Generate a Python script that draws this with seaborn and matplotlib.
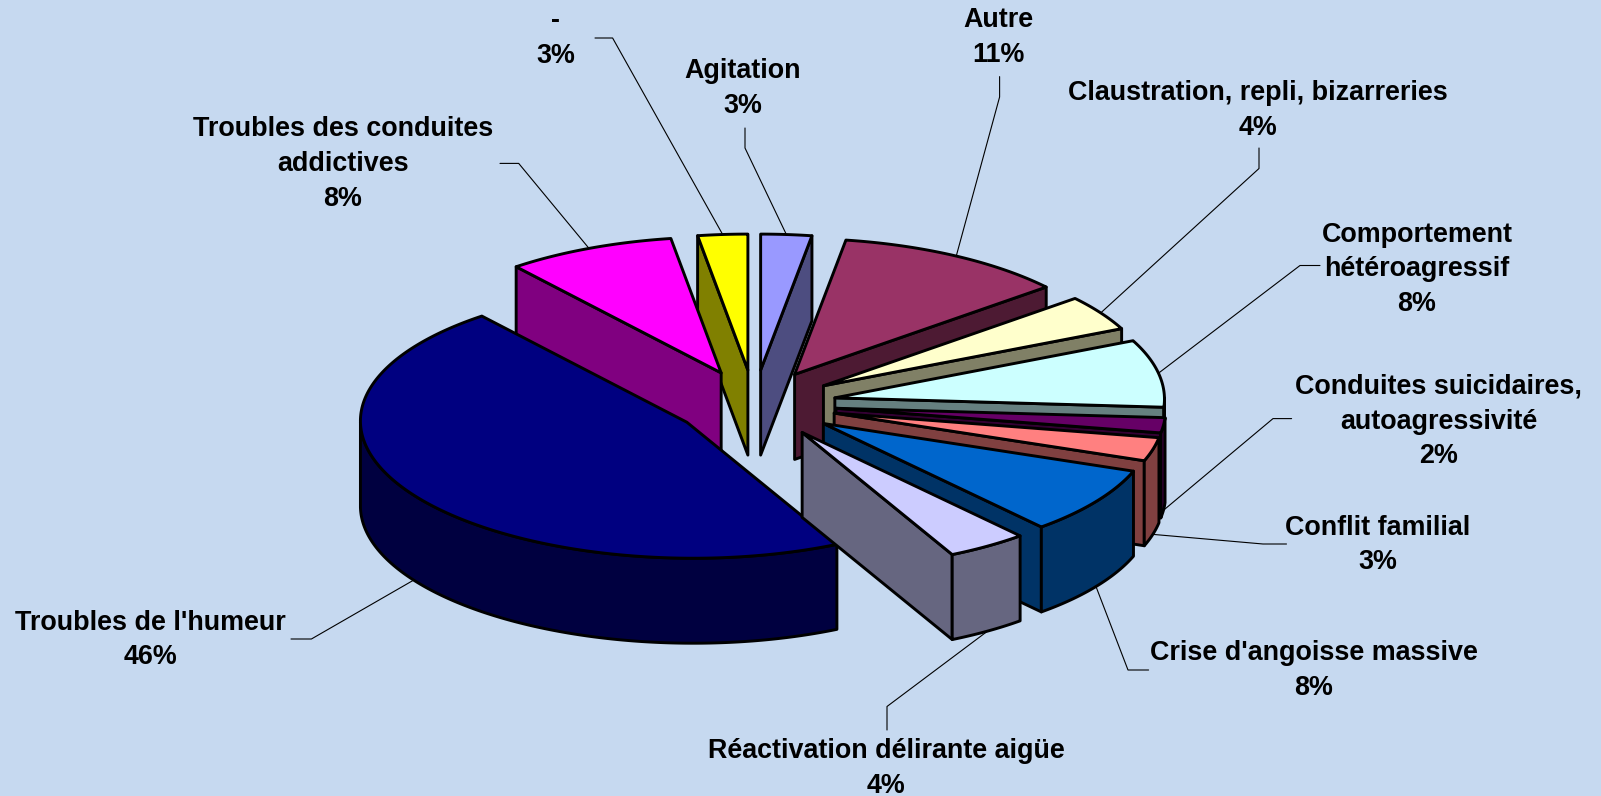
import numpy as np
import matplotlib
matplotlib.use("Agg")
import matplotlib.pyplot as plt
import seaborn as sns
from matplotlib.patches import Polygon

# ---- data ----
categories = ["Agitation", "Autre", "Claustration, repli, bizarreries",
              "Comportement\nhétéroagressif", "Conduites suicidaires,\nautoagressivité",
              "Conflit familial", "Crise d'angoisse massive",
              "Réactivation délirante aigüe", "Troubles de l'humeur",
              "Troubles des conduites\naddictives", "-"]
values = [2.5, 11.4, 4.2, 8.0, 1.8, 2.8, 8.05, 4.0, 46.5, 8.3, 2.45]
percent_labels = ["3%", "11%", "4%", "8%", "2%", "3%", "8%", "4%", "46%", "8%", "3%"]
top_colors = ["#9999FF", "#993366", "#FFFFCC", "#CCFFFF", "#660066", "#FF8080",
              "#0066CC", "#CCCCFF", "#000080", "#FF00FF", "#FFFF00"]

# ---- layout (pixels of the 1601x796 figure) ----
W, H = 1601, 796
BG = "#C6D9F0"
CX, CY = 754.2, 404.0
RX, RY = 328.0, 136.0
EXPLODE = 0.25
DEPTH = 85.0 / RY
TIP_SKEW = 3.5 / RX      # front slices sit a little further right in the reference
RIM_SKEW = 1.6 / RX
LABEL_DY = 3.0
label_xy = [(743, 85.8), (998.5, 34.7), (1257.8, 107.2), (1417, 266.5), (1438.6, 418.6),
            (1378, 542), (1314, 667.7), (886, 765.8), (150, 637), (343, 161.3), (555.4, 35.7)]
leader_xy = [[(745, 128), (745, 148)], [(999.6, 76.6), (999.6, 97)], [(1259, 148), (1259, 168.5)],
             [(1320, 265.5), (1300, 265.5)], [(1291.6, 418.6), (1273, 418.6)],
             [(1286.5, 544), (1263, 544)], [(1148.6, 670), (1128, 670)],
             [(887, 730), (887, 706.5)], [(291, 639), (311.4, 639)],
             [(500, 163.4), (518.7, 163.4)], [(595, 38), (612.6, 38)]]

sns.set_theme(style="white", rc={"figure.facecolor": BG, "axes.facecolor": BG})
plt.rcParams["font.family"] = ["Liberation Sans", "DejaVu Sans"]
palette = sns.color_palette(top_colors)

fig = plt.figure(figsize=(W / 100, H / 100), dpi=100)
ax = fig.add_axes([0, 0, 1, 1])
# pie plane units: radius 1 on both axes, squashed by the axis limits
ax.set_xlim(-CX / RX, (W - CX) / RX)
ax.set_ylim((CY - H) / RY, CY / RY)
ax.axis("off")


def from_px(p):
    return (p[0] - CX) / RX, (CY - p[1]) / RY


fractions = np.array(values) / np.sum(values)
edges = np.concatenate([[0], np.cumsum(fractions)]) * 2 * np.pi
LW = 2.1


def add_face(points, color, z):
    ax.add_patch(Polygon(points, closed=True, facecolor=color, edgecolor="black",
                         linewidth=LW, joinstyle="round", zorder=z))


mids = (edges[:-1] + edges[1:]) / 2
tip_u = EXPLODE * np.sin(mids) + TIP_SKEW * np.clip(-np.cos(mids), 0, None)
tip_v = EXPLODE * np.cos(mids)
draw_order = np.argsort(-tip_v)
down = np.array([0, -DEPTH])


def rim_points(i, angles):
    angles = np.atleast_1d(angles)
    return np.column_stack([tip_u[i] + np.sin(angles) + RIM_SKEW * (1 - np.cos(angles)) ** 2,
                            tip_v[i] + np.cos(angles)])


for rank, i in enumerate(draw_order):
    a0, a1 = edges[i], edges[i + 1]
    tip = np.array([tip_u[i], tip_v[i]])
    top = np.array(palette[i])
    wall = tuple(top * 0.5)
    z = 2 + rank
    arc = rim_points(i, np.linspace(a0, a1, 200))
    # radial walls facing the viewer
    for ang, visible in ((a0, np.sin(a0) < 0), (a1, np.sin(a1) > 0)):
        if visible:
            rim = rim_points(i, ang)[0]
            add_face([tip, rim, rim + down, tip + down], wall, z)
    # outer wall, front half only
    lo, hi = max(a0, np.pi / 2), min(a1, 3 * np.pi / 2)
    if hi > lo:
        r = rim_points(i, np.linspace(lo, hi, 200))
        add_face(np.vstack([r, (r + down)[::-1]]), wall, z)
    add_face(np.vstack([tip, arc]), palette[i], z)

# labels and leader lines
for i, (name, pct) in enumerate(zip(categories, percent_labels)):
    lx, ly = from_px((label_xy[i][0], label_xy[i][1] + LABEL_DY))
    ax.text(lx, ly, f"{name}\n{pct}", ha="center", va="center", fontsize=19.35,
            fontweight="bold", color="black", linespacing=1.44, zorder=50)
    rim = rim_points(i, mids[i])[0]
    if np.cos(mids[i]) < 0:
        rim = rim + down
    pts = [from_px(p) for p in leader_xy[i]] + [tuple(rim)]
    ax.plot(*zip(*pts), color="black", lw=0.8, zorder=40)

fig.savefig("out.png", dpi=100, facecolor=BG)
